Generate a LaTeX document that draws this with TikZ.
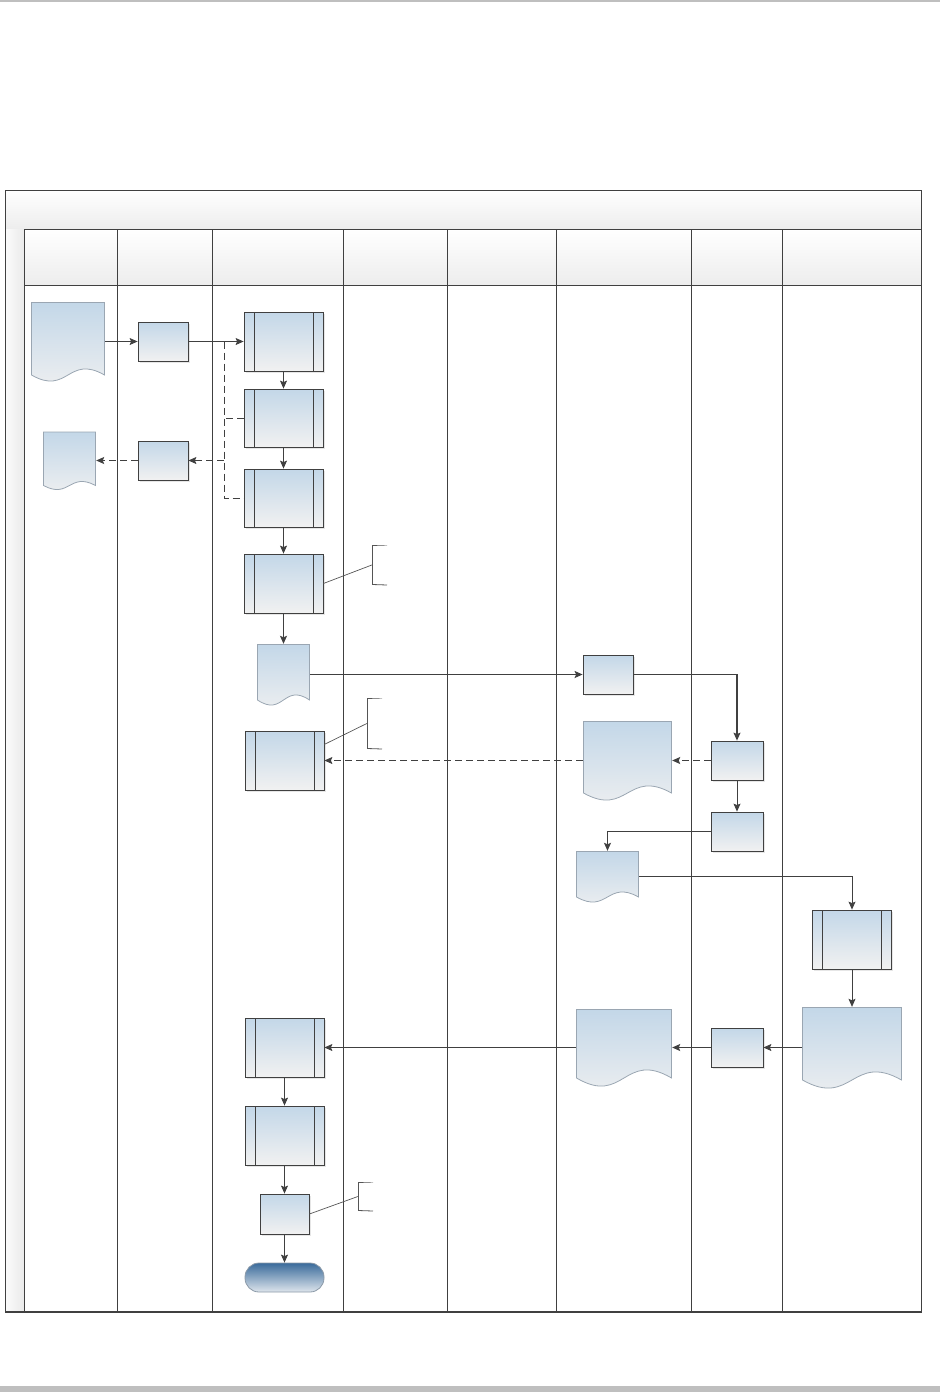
\documentclass[tikz,border=0pt]{standalone}
\usepackage{tikz}
\usetikzlibrary{arrows.meta, calc, shadows}

\definecolor{lineclr}{HTML}{404040}
\definecolor{shapetop}{HTML}{C3D7E8}
\definecolor{shapebot}{HTML}{F1F1F1}
\definecolor{docedge}{HTML}{9AA6B2}
\definecolor{headclr}{HTML}{EDEDED}
\definecolor{stripclr}{HTML}{EAEAEA}
\definecolor{barclr}{HTML}{BFBFBF}
\definecolor{annclr}{HTML}{555555}
\definecolor{termtop}{HTML}{3A6B9B}
\definecolor{termbot}{HTML}{DEE5EC}
\definecolor{termedge}{HTML}{8C9AA8}

\begin{document}
\begin{tikzpicture}[
              x=1pt, y=-1pt,
              procbox/.style={draw=lineclr, line width=0.8pt, top color=shapetop, bottom color=shapebot, inner sep=0pt, minimum width=50pt, minimum height=39pt, drop shadow={shadow xshift=1.5pt, shadow yshift=-1.5pt, opacity=0.2}},
              subproc/.style={procbox, minimum width=79pt, minimum height=59pt,
                path picture={\draw[lineclr, line width=0.8pt]
                  ([xshift=10pt]path picture bounding box.north west) -- ([xshift=10pt]path picture bounding box.south west)
                  ([xshift=-10pt]path picture bounding box.north east) -- ([xshift=-10pt]path picture bounding box.south east);}},
              docu/.style={inner sep=0pt,
                path picture={\path[top color=shapetop, bottom color=shapebot, draw=docedge, line width=0.8pt]
                  ([shift={(0.5pt,-0.5pt)}]path picture bounding box.north west)
                  -- ([shift={(-0.5pt,-0.5pt)}]path picture bounding box.north east)
                  -- ([shift={(-0.5pt,#1pt)}]path picture bounding box.south east)
                  .. controls ([yshift=4.5*#1pt]path picture bounding box.south) and ([yshift=-2.5*#1pt]path picture bounding box.south)
                  .. ([shift={(0.5pt,#1pt)}]path picture bounding box.south west) -- cycle;}},
              docu/.default=6,
              annot/.style={inner sep=0pt, minimum width=15pt,
                path picture={\draw[annclr, line width=0.8pt]
                  (path picture bounding box.north east) -- ([shift={(0.5pt,-0.5pt)}]path picture bounding box.north west)
                  -- ([shift={(0.5pt,0.5pt)}]path picture bounding box.south west) -- (path picture bounding box.south east);}},
              termin/.style={draw=termedge, line width=0.8pt, top color=termtop, bottom color=termbot, rounded corners=14pt, inner sep=0pt, minimum width=79pt, minimum height=29pt},
              arr/.style={-{Stealth[length=8pt, width=7pt, inset=1.5pt]}, draw=lineclr, line width=0.8pt},
              thickarr/.style={arr, line width=1.4pt},
              dasharr/.style={arr, dash pattern=on 7pt off 4pt},
              dashln/.style={draw=lineclr, line width=0.9pt, dash pattern=on 7pt off 4pt},
              annln/.style={draw=annclr, line width=0.7pt}
            ]
              \useasboundingbox (0,0) rectangle (940,1392);
              \fill[barclr] (0,0) rectangle (940,1.5);
              \fill[barclr] (0,1386) rectangle (940,1392);

              \shade[top color=white, bottom color=headclr] (5,190) rectangle (921,229);
              \draw[lineclr, line width=0.8pt] (5,229) -- (921,229);
              \shade[left color=gray!3, right color=stripclr] (5,229) rectangle (24,1312);
              \foreach \xa/\xb in {24/117, 117/212, 212/343, 343/447, 447/556, 556/691, 691/782, 782/921}
                \shade[top color=white, bottom color=headclr, draw=lineclr, line width=0.8pt] (\xa,229) rectangle (\xb,285);
              \foreach \xa in {24, 117, 212, 343, 447, 556, 691, 782}
                \draw[lineclr, line width=0.8pt] (\xa,285) -- (\xa,1312);
              \draw[lineclr, line width=1pt] (5,190) rectangle (921,1312);
              \draw[lineclr, line width=1.4pt] (5,1312) -- (921,1312);

              \node[docu, minimum width=74pt, minimum height=79pt] (doc1) at (68,341.5) {};
              \node[docu=4, minimum width=53pt, minimum height=58pt] (doc2) at (69.5,460.5) {};
              \node[procbox] (box1) at (163,341.5) {};
              \node[procbox] (box2) at (163,460.5) {};

              \node[subproc] (sub1) at (283.5,341.5) {};
              \node[subproc, minimum height=58pt] (sub2) at (283.5,418) {};
              \node[subproc, minimum height=58pt] (sub3) at (283.5,498) {};
              \node[subproc] (sub4) at (283.5,583.5) {};
              \node[docu=5, minimum width=53pt, minimum height=61pt] (doc3) at (283.5,674.5) {};
              \node[subproc] (sub5) at (284.5,760.5) {};
              \node[subproc] (sub6) at (284.5,1047.5) {};
              \node[subproc] (sub7) at (284.5,1135.5) {};
              \node[procbox, minimum width=49pt, minimum height=40pt] (box3) at (284.5,1214) {};
              \node[termin] (term) at (284.5,1277.5) {};

              \node[annot, minimum height=40pt] (ann1) at (379.5,565) {};
              \node[annot, minimum height=51pt] (ann2) at (374.5,723.5) {};
              \node[annot, minimum height=29pt] (ann3) at (365.5,1196.5) {};

              \node[procbox] (box4) at (608,674.5) {};
              \node[docu=7, minimum width=89pt, minimum height=79pt] (doc4) at (627.5,760.5) {};
              \node[docu=5, minimum width=63pt, minimum height=51pt] (doc5) at (607.5,876.5) {};
              \node[docu=8, minimum width=96pt, minimum height=77pt] (doc6) at (624,1047.5) {};

              \node[procbox, minimum width=52pt] (box5) at (737,760.5) {};
              \node[procbox, minimum width=52pt] (box6) at (737,831.5) {};
              \node[procbox, minimum width=52pt] (box7) at (737,1047.5) {};

              \node[subproc] (sub8) at (852,939.5) {};
              \node[docu=8, minimum width=100pt, minimum height=81pt] (doc7) at (852,1047.5) {};

              \coordinate (j1) at (224,341.5);
              \coordinate (j2) at (224,460.5);

              \draw[arr] (doc1) -- (box1);
              \draw[arr] (box1) -- (sub1);
              \draw[dashln] (j1) |- (sub3.west);
              \draw[dashln] (sub2.west) -- (sub2.west -| j1);
              \draw[dasharr] (j2) -- (box2.east);
              \draw[dasharr] (box2) -- (doc2);
              \draw[arr] (sub1) -- (sub2);
              \draw[arr] (sub2) -- (sub3);
              \draw[arr] (sub3) -- (sub4);
              \draw[arr] (sub4) -- (doc3);
              \draw[thickarr] (doc3) -- (box4);
              \draw[arr, line width=1.1pt] (box4.east) -| (box5.north);
              \draw[dasharr] (box5) -- (doc4);
              \draw[dasharr] (doc4) -- (sub5);
              \draw[arr] (box5) -- (box6);
              \draw[arr] (box6.west) -| (doc5.north);
              \draw[arr] (doc5.east) -| (sub8.north);
              \draw[arr] (sub8) -- (doc7);
              \draw[arr] (doc7) -- (box7);
              \draw[arr] (box7) -- (doc6);
              \draw[arr] (doc6) -- (sub6);
              \draw[arr] (sub6) -- (sub7);
              \draw[arr] (sub7) -- (box3);
              \draw[arr] (box3) -- (term);

              \draw[annln] (sub4.east) -- (ann1.west);
              \draw[annln] (sub5.22) -- (ann2.west);
              \draw[annln] (box3.east) -- (ann3.west);
            \end{tikzpicture}
\end{document}
